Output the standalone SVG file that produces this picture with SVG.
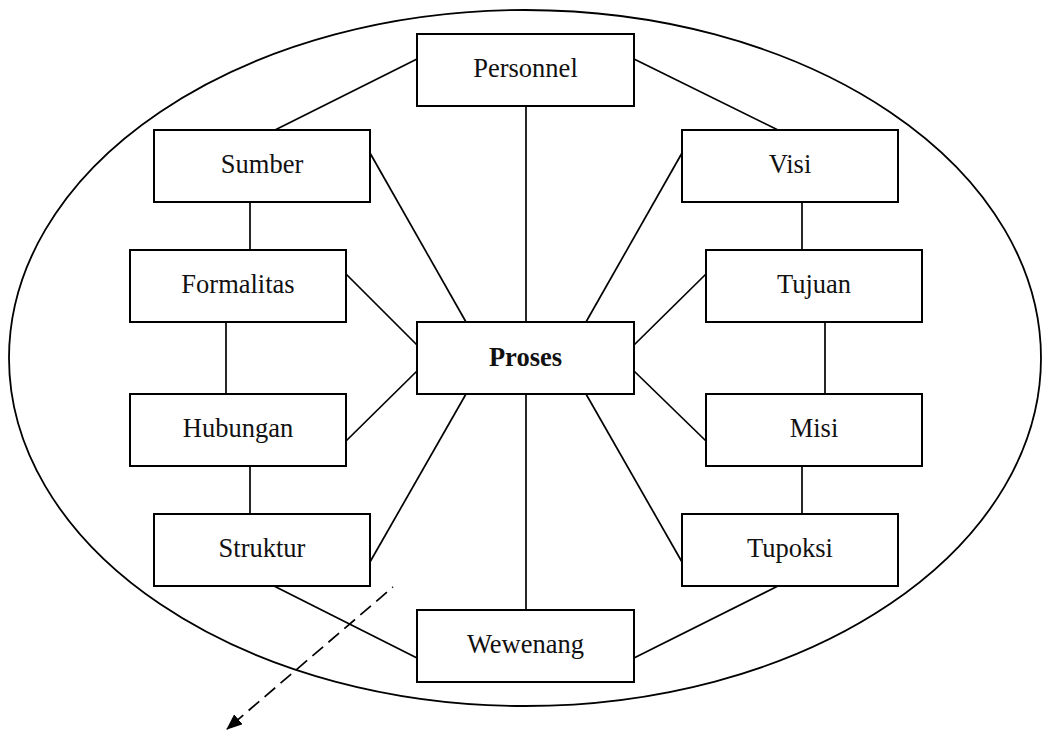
<svg xmlns="http://www.w3.org/2000/svg" width="1042" height="732" viewBox="0 0 1042 732">
<style>
.box{fill:#fff;stroke:#000;stroke-width:2}
.lbl{font-family:"Liberation Serif","Times New Roman",serif;font-size:26.5px;fill:#111;text-anchor:middle}
.bold{font-weight:bold}
.conn line{stroke:#000;stroke-width:1.7}
</style>
<defs>
<marker id="arr" markerWidth="16" markerHeight="13" refX="15" refY="6.5" orient="auto" markerUnits="userSpaceOnUse" viewBox="0 0 16 13">
<path d="M0,0 L16,6.5 L0,13 z" fill="#000"/>
</marker>
</defs>
<rect width="1042" height="732" fill="#fff"/>
<ellipse id="boundary" cx="525" cy="358" rx="516" ry="348" fill="none" stroke="#000" stroke-width="1.8"/>
<g id="connectors" class="conn">
<line x1="417" y1="59" x2="275" y2="130"/>
<line x1="634" y1="59" x2="778" y2="130"/>
<line x1="526" y1="106" x2="526" y2="322"/>
<line x1="370" y1="153" x2="466" y2="322"/>
<line x1="682" y1="153" x2="586" y2="322"/>
<line x1="250" y1="202" x2="250" y2="250"/>
<line x1="802" y1="202" x2="802" y2="250"/>
<line x1="346" y1="274" x2="417" y2="345"/>
<line x1="706" y1="274" x2="634" y2="345"/>
<line x1="226" y1="322" x2="226" y2="394"/>
<line x1="825" y1="322" x2="825" y2="394"/>
<line x1="346" y1="441" x2="417" y2="371"/>
<line x1="706" y1="441" x2="634" y2="371"/>
<line x1="250" y1="466" x2="250" y2="514"/>
<line x1="802" y1="466" x2="802" y2="514"/>
<line x1="466" y1="394" x2="370" y2="562"/>
<line x1="586" y1="394" x2="682" y2="562"/>
<line x1="526" y1="394" x2="526" y2="610"/>
<line x1="274" y1="586" x2="417" y2="658"/>
<line x1="778" y1="586" x2="634" y2="658"/>
<line x1="393" y1="587" x2="227" y2="729" stroke-width="2" stroke-dasharray="14 7" stroke-dashoffset="13" marker-end="url(#arr)"/>
</g>
<g id="personnel"><rect class="box" x="417" y="34" width="217" height="72"/><text class="lbl" x="525.5" y="77">Personnel</text></g>
<g id="sumber"><rect class="box" x="154" y="130" width="216" height="72"/><text class="lbl" x="262" y="173">Sumber</text></g>
<g id="visi"><rect class="box" x="682" y="130" width="216" height="72"/><text class="lbl" x="790" y="173">Visi</text></g>
<g id="formalitas"><rect class="box" x="130" y="250" width="216" height="72"/><text class="lbl" x="238" y="293">Formalitas</text></g>
<g id="tujuan"><rect class="box" x="706" y="250" width="216" height="72"/><text class="lbl" x="814" y="293">Tujuan</text></g>
<g id="proses"><rect class="box" x="417" y="322" width="217" height="72"/><text class="lbl bold" x="525.5" y="366">Proses</text></g>
<g id="hubungan"><rect class="box" x="130" y="394" width="216" height="72"/><text class="lbl" x="238" y="437">Hubungan</text></g>
<g id="misi"><rect class="box" x="706" y="394" width="216" height="72"/><text class="lbl" x="814" y="437">Misi</text></g>
<g id="struktur"><rect class="box" x="154" y="514" width="216" height="72"/><text class="lbl" x="262" y="557">Struktur</text></g>
<g id="tupoksi"><rect class="box" x="682" y="514" width="216" height="72"/><text class="lbl" x="790" y="557">Tupoksi</text></g>
<g id="wewenang"><rect class="box" x="417" y="610" width="217" height="72"/><text class="lbl" x="525.5" y="653">Wewenang</text></g>
</svg>
